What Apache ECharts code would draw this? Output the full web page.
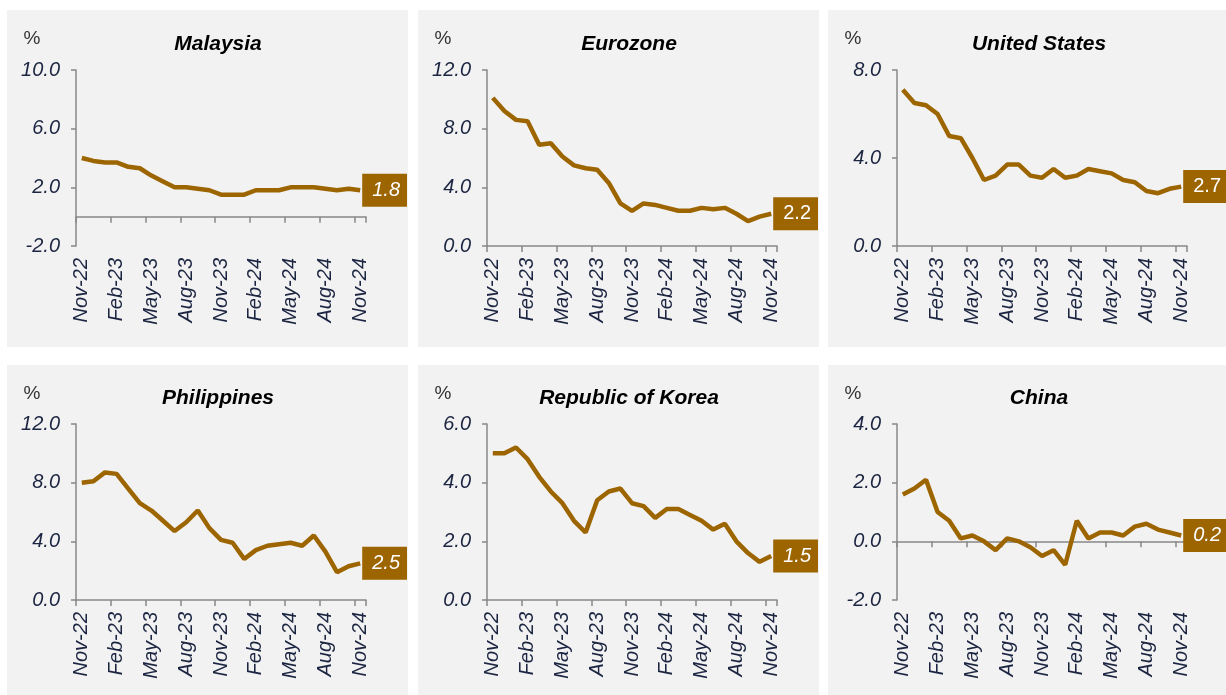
<!DOCTYPE html>
<html>
<head>
<meta charset="utf-8">
<script src="https://cdn.jsdelivr.net/npm/echarts@6/dist/echarts.min.js"></script>
<style>
html, body { margin: 0; padding: 0; background: #fff; }
#chart { width: 1226px; height: 695px; }
</style>
</head>
<body>
<div id="chart"></div>
<script>
// tick labels, Nov-22 .. Nov-24
var months = ['Nov-22', 'Dec-22', 'Jan-23', 'Feb-23', 'Mar-23', 'Apr-23', 'May-23', 'Jun-23', 'Jul-23',
    'Aug-23', 'Sep-23', 'Oct-23', 'Nov-23', 'Dec-23', 'Jan-24', 'Feb-24', 'Mar-24', 'Apr-24',
    'May-24', 'Jun-24', 'Jul-24', 'Aug-24', 'Sep-24', 'Oct-24', 'Nov-24'];

// inflation, % y/y
var malaysia = [4.0, 3.8, 3.7, 3.7, 3.4, 3.3, 2.8, 2.4, 2.0, 2.0, 1.9, 1.8, 1.5, 1.5, 1.5, 1.8, 1.8, 1.8, 2.0, 2.0, 2.0, 1.9, 1.8, 1.9, 1.8];
var eurozone = [10.1, 9.2, 8.6, 8.5, 6.9, 7.0, 6.1, 5.5, 5.3, 5.2, 4.3, 2.9, 2.4, 2.9, 2.8, 2.6, 2.4, 2.4, 2.6, 2.5, 2.6, 2.2, 1.7, 2.0, 2.2];
var unitedStates = [7.1, 6.5, 6.4, 6.0, 5.0, 4.9, 4.0, 3.0, 3.2, 3.7, 3.7, 3.2, 3.1, 3.5, 3.1, 3.2, 3.5, 3.4, 3.3, 3.0, 2.9, 2.5, 2.4, 2.6, 2.7];
var philippines = [8.0, 8.1, 8.7, 8.6, 7.6, 6.6, 6.1, 5.4, 4.7, 5.3, 6.1, 4.9, 4.1, 3.9, 2.8, 3.4, 3.7, 3.8, 3.9, 3.7, 4.4, 3.3, 1.9, 2.3, 2.5];
var korea = [5.0, 5.0, 5.2, 4.8, 4.2, 3.7, 3.3, 2.7, 2.3, 3.4, 3.7, 3.8, 3.3, 3.2, 2.8, 3.1, 3.1, 2.9, 2.7, 2.4, 2.6, 2.0, 1.6, 1.3, 1.5];
var china = [1.6, 1.8, 2.1, 1.0, 0.7, 0.1, 0.2, 0.0, -0.3, 0.1, 0.0, -0.2, -0.5, -0.3, -0.8, 0.7, 0.1, 0.3, 0.3, 0.2, 0.5, 0.6, 0.4, 0.3, 0.2];

var titles = ['Malaysia', 'Eurozone', 'United States', 'Philippines', 'Republic of Korea', 'China'];
var seriesData = [malaysia, eurozone, unitedStates, philippines, korea, china];
// y scale per panel: [min, max, interval]
var yScales = [[-2, 10, 4], [0, 12, 4], [0, 8, 4], [0, 12, 4], [0, 6, 2], [-2, 4, 2]];
var endItalic = [true, false, false, true, true, true];

// panel boxes [x, y, w, h]
var boxes = [[7, 10, 401, 337], [418, 10, 401, 337], [828, 10, 398, 337],
    [7, 365, 401, 330], [418, 365, 401, 330], [828, 365, 398, 330]];

var BROWN = '#9c6500';
var NAVY = '#1c2541';
var AXIS = '#888888';
var FONT = '"Liberation Sans", Arial, sans-serif';

var chart = echarts.init(document.getElementById('chart'));

var grids = [], xAxes = [], yAxes = [], series = [], graphics = [];

for (var i = 0; i < 6; i++) {
    var b = boxes[i];
    var gLeft = b[0] + 69;
    var gTop = b[1] + (i < 3 ? 60 : 59);
    grids.push({left: gLeft, top: gTop, width: 290, height: 176});

    graphics.push({
        type: 'rect', z: -10,
        shape: {x: b[0], y: b[1], width: b[2], height: b[3]},
        style: {fill: '#f2f2f2'}
    });
    graphics.push({
        type: 'text',
        x: gLeft + 142, y: b[1] + (i < 3 ? 34 : 33),
        style: {text: titles[i], font: 'italic bold 21px ' + FONT, fill: '#000', align: 'center', verticalAlign: 'middle'}
    });
    graphics.push({
        type: 'text',
        x: gLeft - 44, y: b[1] + 29,
        style: {text: '%', font: '19px ' + FONT, fill: '#333', align: 'center', verticalAlign: 'middle'}
    });

    // axis line and ticks (crosses at zero)
    xAxes.push({
        type: 'category', gridIndex: i, data: months, boundaryGap: true, position: 'bottom',
        axisLine: {show: true, onZero: true, lineStyle: {color: AXIS, width: 1.5}},
        axisTick: {show: true, interval: 2, length: 6, lineStyle: {color: AXIS, width: 1.5}},
        axisLabel: {show: false}
    });
    // labels stay at the bottom of the plot
    xAxes.push({
        type: 'category', gridIndex: i, data: months, boundaryGap: true, position: 'bottom',
        axisLine: {show: false, onZero: false},
        axisTick: {show: false},
        axisLabel: {interval: 2, rotate: 90, margin: 12, fontSize: 20, fontStyle: 'italic', fontFamily: FONT, color: NAVY}
    });

    yAxes.push({
        type: 'value', gridIndex: i,
        min: yScales[i][0], max: yScales[i][1], interval: yScales[i][2],
        splitLine: {show: false},
        axisLine: {show: true, onZero: false, lineStyle: {color: AXIS, width: 1.5}},
        axisTick: {show: true, length: 5, lineStyle: {color: AXIS, width: 1.5}},
        axisLabel: {
            margin: 16, fontSize: 20, fontStyle: 'italic', fontFamily: FONT, color: NAVY,
            formatter: function (v) { return v.toFixed(1); }
        }
    });

    series.push({
        type: 'line', xAxisIndex: i * 2, yAxisIndex: i,
        data: seriesData[i],
        symbol: 'none',
        lineStyle: {color: BROWN, width: 4.5},
        endLabel: {
            show: true, distance: 2,
            formatter: function (p) { return p.value.toFixed(1); },
            backgroundColor: BROWN, color: '#fff',
            fontSize: 20, fontFamily: FONT,
            fontStyle: endItalic[i] ? 'italic' : 'normal',
            lineHeight: 23, padding: [5, 7, 5, 10]
        }
    });
}

chart.setOption({
    animation: false,
    backgroundColor: '#fff',
    grid: grids,
    xAxis: xAxes,
    yAxis: yAxes,
    series: series,
    graphic: graphics
});
</script>
</body>
</html>
